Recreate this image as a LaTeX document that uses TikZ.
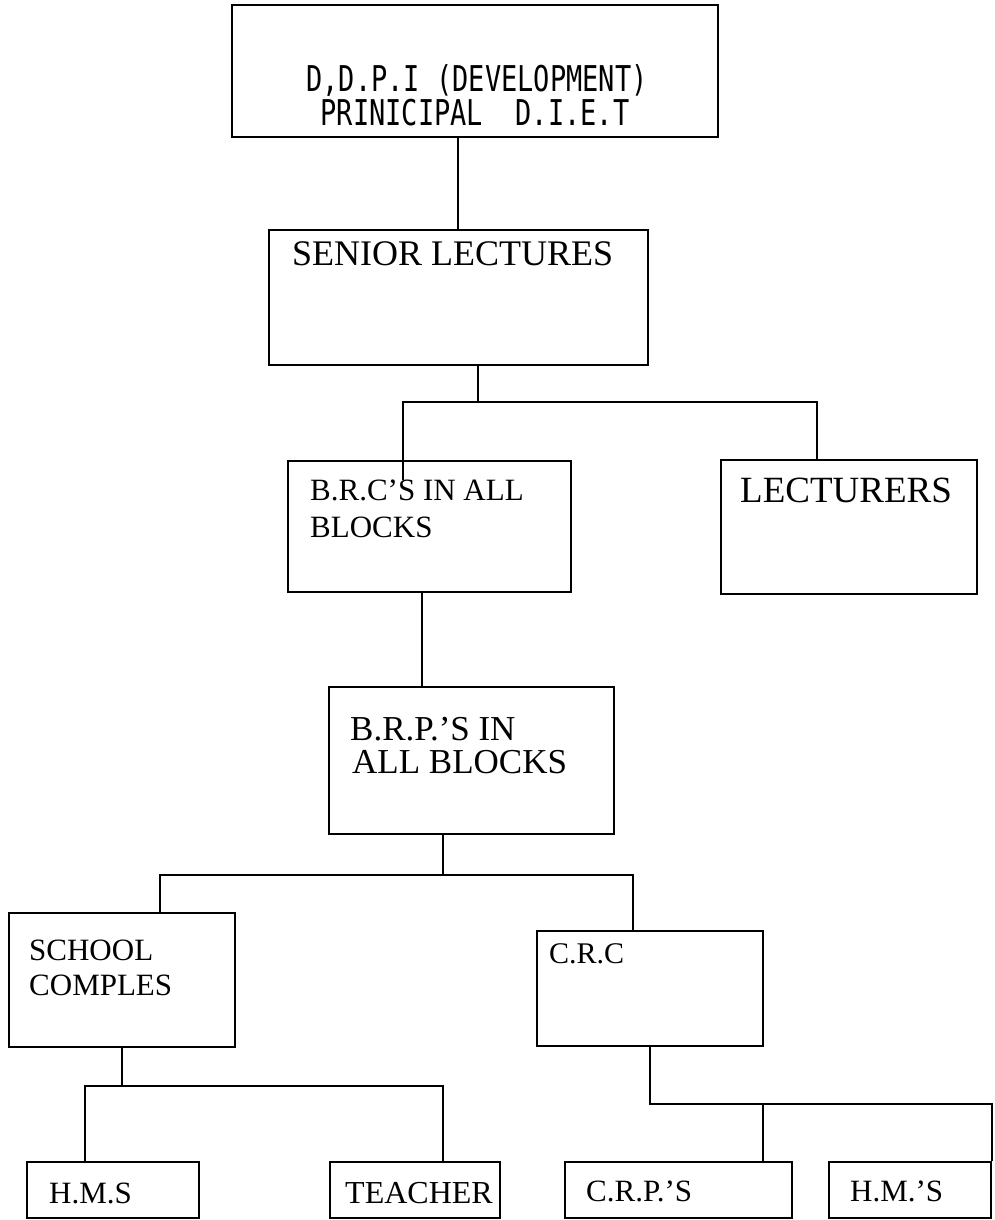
\documentclass[tikz,border=0pt]{standalone}
\usepackage{fontspec}
\setmainfont{Liberation Serif}
\newfontfamily\typewriterfont[FakeStretch=0.76]{DejaVu Sans Mono}

\tikzset{
    box/.style={draw, line width=1.8pt, inner sep=0pt},
    link/.style={line width=1.8pt},
    lbl/.style={anchor=base west, inner sep=0pt},
}

\begin{document}
\begin{tikzpicture}[x=1pt,y=-1pt]
\useasboundingbox (0,0) rectangle (994,1220);

% Boxes
\foreach \name/\cx/\cy/\w/\h in {
    top/475/71/486/132,
    senior/458.5/297.5/379/135,
    brc/429.5/526.5/283/131,
    lect/849/527/256/134,
    brp/471.5/760.5/285/147,
    school/122/980/226/134,
    crc/650/988.5/226/115,
    hms/113/1190/172/56,
    teacher/415/1190/170/56,
    crp/678.5/1190/227/56,
    hmsb/910/1190/162/56
} {
    \node[box, minimum width=\w pt, minimum height=\h pt] (\name) at (\cx,\cy) {};
}

% Labels
\node[anchor=base, inner sep=0pt, font=\typewriterfont\fontsize{35.5}{35.5}\selectfont] (top-a) at (477,92) {D,D.P.I (DEVELOPMENT)};
\node[anchor=base, inner sep=0pt, font=\typewriterfont\fontsize{35.5}{35.5}\selectfont] (top-b) at (475,126) {PRINICIPAL\ \ D.I.E.T};

\foreach \name/\x/\y/\s/\txt in {
    senior-t/292/265/36/SENIOR LECTURES,
    lect-t/740/502/37/LECTURERS,
    brc-a/310/500/31/B.R.C'S IN ALL,
    brc-b/310/537/31/BLOCKS,
    brp-a/350/740/35/B.R.P.'S IN,
    brp-b/352/773/35/ALL BLOCKS,
    school-a/29/960/31/SCHOOL,
    school-b/29/995/31/COMPLES,
    crc-t/549/963/30/C.R.C,
    hms-t/49/1203/31/H.M.S,
    teacher-t/345/1203/32/TEACHER,
    crp-t/586/1201/31/C.R.P.'S,
    hmsb-t/850/1201/31/H.M.'S
} {
    \node[lbl, font=\fontsize{\s}{\s}\selectfont] (\name) at (\x,\y) {\txt};
}

% Connectors
\coordinate (j1) at (478,402);
\coordinate (j2) at (443,875);
\coordinate (j3) at (122,1086);
\coordinate (j4) at (650,1104);

\draw[link] ([xshift=-17pt]top.south) -- ([xshift=-17pt]top.south |- senior.north);
\draw[link] ([xshift=19.5pt]senior.south) -- (j1);
\draw[link] ([xshift=-26.5pt]brc.north) ++(0,20) |- (j1) -| ([xshift=-32pt]lect.north);
\draw[link] ([xshift=-7.5pt]brc.south) -- ([xshift=-7.5pt]brc.south |- brp.north);
\draw[link] ([xshift=-28.5pt]brp.south) -- (j2);
\draw[link] ([xshift=38pt]school.north) |- (j2) -| ([xshift=-17pt]crc.north);
\draw[link] (school.south) -- (j3);
\draw[link] ([xshift=-28pt]hms.north) |- (j3) -| ([xshift=28pt]teacher.north);
\draw[link] (crc.south) -- (j4) -| (hmsb.north east);
\draw[link] ([xshift=84.5pt]crp.north) -- ([xshift=84.5pt]crp.north |- j4);
\end{tikzpicture}
\end{document}
